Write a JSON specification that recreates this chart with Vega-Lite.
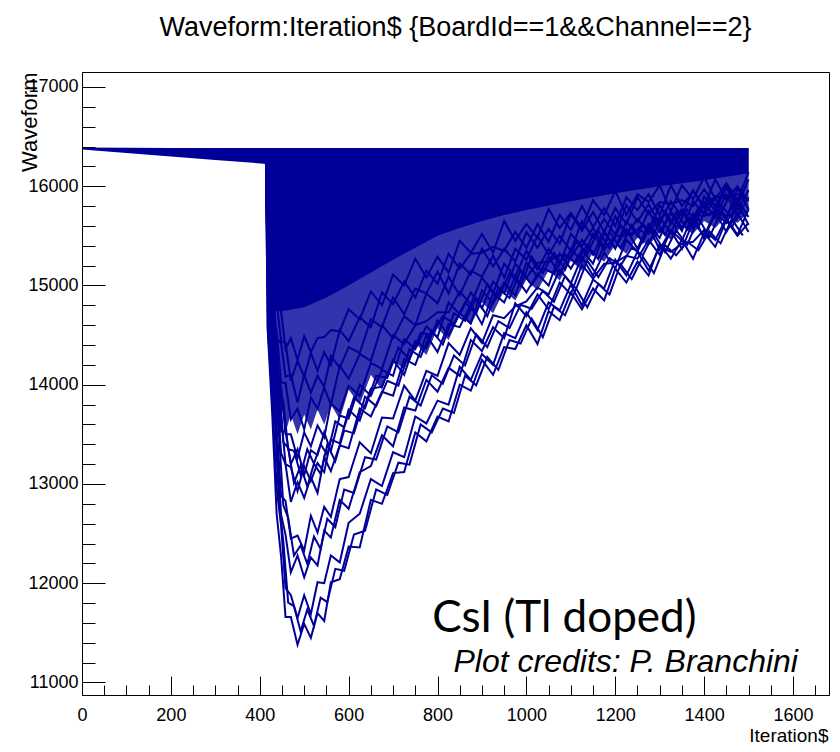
{
"$schema": "https://vega.github.io/schema/vega-lite/v6.json",
"width": 747, "height": 623,
"autosize": {"type": "none"},
"padding": {"left": 82, "top": 72, "right": 11, "bottom": 57},
"background": "white",
"title": {"text": "Waveform:Iteration$ {BoardId==1&&Channel==2}", "font": "Liberation Sans", "fontSize": 27, "fontWeight": "normal", "color": "black", "anchor": "middle", "frame": "group", "baseline": "alphabetic", "offset": 9},
"config": {"view": {"stroke": "black", "strokeWidth": 1}, "axis": {"grid": false}},
"datasets": {
"core": [
{"x":0,"top":16390,"bottom":16370},{"x":100,"top":16388,"bottom":16335},{"x":200,"top":16385,"bottom":16300},{"x":300,"top":16385,"bottom":16265},{"x":416,"top":16385,"bottom":16225},{"x":417,"top":16385,"bottom":14750},{"x":450,"top":16385,"bottom":14740},{"x":500,"top":16385,"bottom":14780},{"x":550,"top":16385,"bottom":14880},{"x":600,"top":16385,"bottom":15000},{"x":650,"top":16385,"bottom":15130},{"x":700,"top":16385,"bottom":15260},{"x":750,"top":16385,"bottom":15380},{"x":800,"top":16385,"bottom":15500},{"x":850,"top":16385,"bottom":15580},{"x":900,"top":16385,"bottom":15650},{"x":950,"top":16385,"bottom":15710},{"x":1000,"top":16385,"bottom":15760},{"x":1100,"top":16385,"bottom":15850},{"x":1200,"top":16385,"bottom":15930},{"x":1300,"top":16385,"bottom":16000},{"x":1400,"top":16385,"bottom":16060},{"x":1500,"top":16385,"bottom":16130}
],
"fringe": [
{"x":417,"top":16385,"bottom":14750},{"x":430,"top":16385,"bottom":14000},{"x":440,"top":16385,"bottom":13650},{"x":450,"top":16385,"bottom":13750},{"x":460,"top":16385,"bottom":13550},{"x":470,"top":16385,"bottom":13700},{"x":485,"top":16385,"bottom":13500},{"x":500,"top":16385,"bottom":13700},{"x":515,"top":16385,"bottom":13550},{"x":530,"top":16385,"bottom":13750},{"x":545,"top":16385,"bottom":13600},{"x":560,"top":16385,"bottom":13800},{"x":580,"top":16385,"bottom":13650},{"x":600,"top":16385,"bottom":13950},{"x":625,"top":16385,"bottom":13800},{"x":650,"top":16385,"bottom":14100},{"x":675,"top":16385,"bottom":13950},{"x":700,"top":16385,"bottom":14250},{"x":725,"top":16385,"bottom":14150},{"x":750,"top":16385,"bottom":14420},{"x":775,"top":16385,"bottom":14300},{"x":800,"top":16385,"bottom":14570},{"x":825,"top":16385,"bottom":14450},{"x":850,"top":16385,"bottom":14700},{"x":875,"top":16385,"bottom":14600},{"x":900,"top":16385,"bottom":14830},{"x":925,"top":16385,"bottom":14720},{"x":950,"top":16385,"bottom":14950},{"x":975,"top":16385,"bottom":14850},{"x":1000,"top":16385,"bottom":15060},{"x":1025,"top":16385,"bottom":14950},{"x":1050,"top":16385,"bottom":15150},{"x":1075,"top":16385,"bottom":15050},{"x":1100,"top":16385,"bottom":15250},{"x":1125,"top":16385,"bottom":15150},{"x":1150,"top":16385,"bottom":15330},{"x":1175,"top":16385,"bottom":15240},{"x":1200,"top":16385,"bottom":15410},{"x":1225,"top":16385,"bottom":15320},{"x":1250,"top":16385,"bottom":15480},{"x":1275,"top":16385,"bottom":15400},{"x":1300,"top":16385,"bottom":15540},{"x":1325,"top":16385,"bottom":15460},{"x":1350,"top":16385,"bottom":15600},{"x":1375,"top":16385,"bottom":15520},{"x":1400,"top":16385,"bottom":15650},{"x":1425,"top":16385,"bottom":15580},{"x":1450,"top":16385,"bottom":15700},{"x":1475,"top":16385,"bottom":15630},{"x":1500,"top":16385,"bottom":15740}
],
"traces": [
{"s":1,"x":414,"y":16230},{"s":1,"x":418,"y":14540},{"s":1,"x":428,"y":13710},{"s":1,"x":438,"y":12700},{"s":1,"x":448,"y":12270},{"s":1,"x":458,"y":11660},{"s":1,"x":470,"y":11660},{"s":1,"x":485,"y":11380},{"s":1,"x":500,"y":11590},{"s":1,"x":515,"y":11450},{"s":1,"x":530,"y":11700},{"s":1,"x":545,"y":11620},{"s":1,"x":560,"y":12010},{"s":1,"x":580,"y":12040},{"s":1,"x":600,"y":12370},{"s":1,"x":625,"y":12360},{"s":1,"x":650,"y":12840},{"s":1,"x":675,"y":12800},{"s":1,"x":700,"y":13110},{"s":1,"x":725,"y":13120},{"s":1,"x":750,"y":13520},{"s":1,"x":775,"y":13430},{"s":1,"x":800,"y":13680},{"s":1,"x":825,"y":13630},{"s":1,"x":850,"y":14000},{"s":1,"x":875,"y":13940},{"s":1,"x":900,"y":14250},{"s":1,"x":925,"y":14100},{"s":1,"x":950,"y":14380},{"s":1,"x":975,"y":14360},{"s":1,"x":1000,"y":14600},{"s":1,"x":1025,"y":14410},{"s":1,"x":1050,"y":14740},{"s":1,"x":1075,"y":14650},{"s":1,"x":1100,"y":14930},{"s":1,"x":1125,"y":14760},{"s":1,"x":1150,"y":14970},{"s":1,"x":1175,"y":14850},{"s":1,"x":1200,"y":15170},{"s":1,"x":1225,"y":15030},{"s":1,"x":1250,"y":15240},{"s":1,"x":1275,"y":15100},{"s":1,"x":1300,"y":15420},{"s":1,"x":1325,"y":15270},{"s":1,"x":1350,"y":15460},{"s":1,"x":1375,"y":15270},{"s":1,"x":1400,"y":15530},{"s":1,"x":1425,"y":15390},{"s":1,"x":1450,"y":15660},{"s":1,"x":1475,"y":15500},{"s":1,"x":1500,"y":15630},
{"s":2,"x":414,"y":16230},{"s":2,"x":418,"y":14570},{"s":2,"x":428,"y":13900},{"s":2,"x":438,"y":12960},{"s":2,"x":448,"y":12580},{"s":2,"x":458,"y":11950},{"s":2,"x":470,"y":11880},{"s":2,"x":485,"y":11650},{"s":2,"x":500,"y":11880},{"s":2,"x":515,"y":11690},{"s":2,"x":530,"y":12010},{"s":2,"x":545,"y":12000},{"s":2,"x":560,"y":12280},{"s":2,"x":580,"y":12210},{"s":2,"x":600,"y":12610},{"s":2,"x":625,"y":12700},{"s":2,"x":650,"y":13050},{"s":2,"x":675,"y":12980},{"s":2,"x":700,"y":13320},{"s":2,"x":725,"y":13270},{"s":2,"x":750,"y":13680},{"s":2,"x":775,"y":13610},{"s":2,"x":800,"y":13840},{"s":2,"x":825,"y":13800},{"s":2,"x":850,"y":14180},{"s":2,"x":875,"y":14050},{"s":2,"x":900,"y":14310},{"s":2,"x":925,"y":14200},{"s":2,"x":950,"y":14520},{"s":2,"x":975,"y":14470},{"s":2,"x":1000,"y":14730},{"s":2,"x":1025,"y":14550},{"s":2,"x":1050,"y":14830},{"s":2,"x":1075,"y":14750},{"s":2,"x":1100,"y":15010},{"s":2,"x":1125,"y":14800},{"s":2,"x":1150,"y":15060},{"s":2,"x":1175,"y":14970},{"s":2,"x":1200,"y":15260},{"s":2,"x":1225,"y":15100},{"s":2,"x":1250,"y":15340},{"s":2,"x":1275,"y":15150},{"s":2,"x":1300,"y":15390},{"s":2,"x":1325,"y":15340},{"s":2,"x":1350,"y":15420},{"s":2,"x":1375,"y":15440},{"s":2,"x":1400,"y":15560},{"s":2,"x":1425,"y":15460},{"s":2,"x":1450,"y":15680},{"s":2,"x":1475,"y":15510},{"s":2,"x":1500,"y":15770},
{"s":3,"x":414,"y":16230},{"s":3,"x":418,"y":14950},{"s":3,"x":428,"y":13890},{"s":3,"x":438,"y":13460},{"s":3,"x":448,"y":12690},{"s":3,"x":458,"y":12490},{"s":3,"x":470,"y":12110},{"s":3,"x":485,"y":12280},{"s":3,"x":500,"y":12060},{"s":3,"x":515,"y":12260},{"s":3,"x":530,"y":12180},{"s":3,"x":545,"y":12530},{"s":3,"x":560,"y":12460},{"s":3,"x":580,"y":12840},{"s":3,"x":600,"y":12750},{"s":3,"x":625,"y":13120},{"s":3,"x":650,"y":13180},{"s":3,"x":675,"y":13490},{"s":3,"x":700,"y":13380},{"s":3,"x":725,"y":13770},{"s":3,"x":750,"y":13740},{"s":3,"x":775,"y":14050},{"s":3,"x":800,"y":13930},{"s":3,"x":825,"y":14170},{"s":3,"x":850,"y":14090},{"s":3,"x":875,"y":14450},{"s":3,"x":900,"y":14340},{"s":3,"x":925,"y":14580},{"s":3,"x":950,"y":14470},{"s":3,"x":975,"y":14820},{"s":3,"x":1000,"y":14690},{"s":3,"x":1025,"y":14910},{"s":3,"x":1050,"y":14760},{"s":3,"x":1075,"y":15030},{"s":3,"x":1100,"y":14910},{"s":3,"x":1125,"y":15210},{"s":3,"x":1150,"y":15070},{"s":3,"x":1175,"y":15220},{"s":3,"x":1200,"y":15230},{"s":3,"x":1225,"y":15300},{"s":3,"x":1250,"y":15270},{"s":3,"x":1275,"y":15460},{"s":3,"x":1300,"y":15310},{"s":3,"x":1325,"y":15550},{"s":3,"x":1350,"y":15370},{"s":3,"x":1375,"y":15640},{"s":3,"x":1400,"y":15500},{"s":3,"x":1425,"y":15740},{"s":3,"x":1450,"y":15540},{"s":3,"x":1475,"y":15730},{"s":3,"x":1500,"y":15540},
{"s":4,"x":414,"y":16230},{"s":4,"x":418,"y":15090},{"s":4,"x":428,"y":14070},{"s":4,"x":438,"y":13590},{"s":4,"x":448,"y":12880},{"s":4,"x":458,"y":12830},{"s":4,"x":470,"y":12450},{"s":4,"x":485,"y":12480},{"s":4,"x":500,"y":12330},{"s":4,"x":515,"y":12680},{"s":4,"x":530,"y":12510},{"s":4,"x":545,"y":12770},{"s":4,"x":560,"y":12670},{"s":4,"x":580,"y":13050},{"s":4,"x":600,"y":13070},{"s":4,"x":625,"y":13420},{"s":4,"x":650,"y":13310},{"s":4,"x":675,"y":13670},{"s":4,"x":700,"y":13660},{"s":4,"x":725,"y":13990},{"s":4,"x":750,"y":13840},{"s":4,"x":775,"y":14140},{"s":4,"x":800,"y":14090},{"s":4,"x":825,"y":14420},{"s":4,"x":850,"y":14300},{"s":4,"x":875,"y":14570},{"s":4,"x":900,"y":14420},{"s":4,"x":925,"y":14700},{"s":4,"x":950,"y":14670},{"s":4,"x":975,"y":14790},{"s":4,"x":1000,"y":14840},{"s":4,"x":1025,"y":14980},{"s":4,"x":1050,"y":14910},{"s":4,"x":1075,"y":15160},{"s":4,"x":1100,"y":15020},{"s":4,"x":1125,"y":15290},{"s":4,"x":1150,"y":15100},{"s":4,"x":1175,"y":15330},{"s":4,"x":1200,"y":15170},{"s":4,"x":1225,"y":15460},{"s":4,"x":1250,"y":15340},{"s":4,"x":1275,"y":15590},{"s":4,"x":1300,"y":15360},{"s":4,"x":1325,"y":15560},{"s":4,"x":1350,"y":15450},{"s":4,"x":1375,"y":15720},{"s":4,"x":1400,"y":15470},{"s":4,"x":1425,"y":15730},{"s":4,"x":1450,"y":15630},{"s":4,"x":1475,"y":15830},{"s":4,"x":1500,"y":15610},
{"s":5,"x":414,"y":16230},{"s":5,"x":418,"y":15220},{"s":5,"x":428,"y":14360},{"s":5,"x":438,"y":13990},{"s":5,"x":448,"y":13310},{"s":5,"x":458,"y":13200},{"s":5,"x":470,"y":12820},{"s":5,"x":485,"y":13020},{"s":5,"x":500,"y":12860},{"s":5,"x":515,"y":13070},{"s":5,"x":530,"y":12910},{"s":5,"x":545,"y":13270},{"s":5,"x":560,"y":13130},{"s":5,"x":580,"y":13390},{"s":5,"x":600,"y":13360},{"s":5,"x":625,"y":13760},{"s":5,"x":650,"y":13680},{"s":5,"x":675,"y":13930},{"s":5,"x":700,"y":13890},{"s":5,"x":725,"y":14260},{"s":5,"x":750,"y":14200},{"s":5,"x":775,"y":14500},{"s":5,"x":800,"y":14330},{"s":5,"x":825,"y":14610},{"s":5,"x":850,"y":14580},{"s":5,"x":875,"y":14810},{"s":5,"x":900,"y":14610},{"s":5,"x":925,"y":14920},{"s":5,"x":950,"y":14830},{"s":5,"x":975,"y":15090},{"s":5,"x":1000,"y":14930},{"s":5,"x":1025,"y":15120},{"s":5,"x":1050,"y":15000},{"s":5,"x":1075,"y":15320},{"s":5,"x":1100,"y":15170},{"s":5,"x":1125,"y":15360},{"s":5,"x":1150,"y":15220},{"s":5,"x":1175,"y":15530},{"s":5,"x":1200,"y":15380},{"s":5,"x":1225,"y":15570},{"s":5,"x":1250,"y":15370},{"s":5,"x":1275,"y":15620},{"s":5,"x":1300,"y":15480},{"s":5,"x":1325,"y":15750},{"s":5,"x":1350,"y":15580},{"s":5,"x":1375,"y":15710},{"s":5,"x":1400,"y":15700},{"s":5,"x":1425,"y":15750},{"s":5,"x":1450,"y":15700},{"s":5,"x":1475,"y":15860},{"s":5,"x":1500,"y":15690},
{"s":6,"x":414,"y":16230},{"s":6,"x":418,"y":15120},{"s":6,"x":428,"y":14610},{"s":6,"x":438,"y":13830},{"s":6,"x":448,"y":13690},{"s":6,"x":458,"y":13200},{"s":6,"x":470,"y":13170},{"s":6,"x":485,"y":12930},{"s":6,"x":500,"y":13180},{"s":6,"x":515,"y":13030},{"s":6,"x":530,"y":13210},{"s":6,"x":545,"y":13120},{"s":6,"x":560,"y":13450},{"s":6,"x":580,"y":13410},{"s":6,"x":600,"y":13750},{"s":6,"x":625,"y":13640},{"s":6,"x":650,"y":13960},{"s":6,"x":675,"y":13980},{"s":6,"x":700,"y":14250},{"s":6,"x":725,"y":14100},{"s":6,"x":750,"y":14440},{"s":6,"x":775,"y":14370},{"s":6,"x":800,"y":14650},{"s":6,"x":825,"y":14500},{"s":6,"x":850,"y":14720},{"s":6,"x":875,"y":14620},{"s":6,"x":900,"y":14950},{"s":6,"x":925,"y":14820},{"s":6,"x":950,"y":15030},{"s":6,"x":975,"y":14900},{"s":6,"x":1000,"y":15230},{"s":6,"x":1025,"y":15090},{"s":6,"x":1050,"y":15290},{"s":6,"x":1075,"y":15110},{"s":6,"x":1100,"y":15370},{"s":6,"x":1125,"y":15240},{"s":6,"x":1150,"y":15520},{"s":6,"x":1175,"y":15360},{"s":6,"x":1200,"y":15500},{"s":6,"x":1225,"y":15500},{"s":6,"x":1250,"y":15560},{"s":6,"x":1275,"y":15520},{"s":6,"x":1300,"y":15690},{"s":6,"x":1325,"y":15530},{"s":6,"x":1350,"y":15760},{"s":6,"x":1375,"y":15570},{"s":6,"x":1400,"y":15840},{"s":6,"x":1425,"y":15680},{"s":6,"x":1450,"y":15920},{"s":6,"x":1475,"y":15700},{"s":6,"x":1500,"y":15890},
{"s":7,"x":414,"y":16230},{"s":7,"x":418,"y":15350},{"s":7,"x":428,"y":14510},{"s":7,"x":438,"y":14100},{"s":7,"x":448,"y":13530},{"s":7,"x":458,"y":13530},{"s":7,"x":470,"y":13200},{"s":7,"x":485,"y":13350},{"s":7,"x":500,"y":13090},{"s":7,"x":515,"y":13340},{"s":7,"x":530,"y":13290},{"s":7,"x":545,"y":13520},{"s":7,"x":560,"y":13330},{"s":7,"x":580,"y":13690},{"s":7,"x":600,"y":13660},{"s":7,"x":625,"y":14000},{"s":7,"x":650,"y":13890},{"s":7,"x":675,"y":14150},{"s":7,"x":700,"y":14090},{"s":7,"x":725,"y":14460},{"s":7,"x":750,"y":14360},{"s":7,"x":775,"y":14590},{"s":7,"x":800,"y":14480},{"s":7,"x":825,"y":14830},{"s":7,"x":850,"y":14710},{"s":7,"x":875,"y":14930},{"s":7,"x":900,"y":14770},{"s":7,"x":925,"y":15040},{"s":7,"x":950,"y":14920},{"s":7,"x":975,"y":15220},{"s":7,"x":1000,"y":15080},{"s":7,"x":1025,"y":15230},{"s":7,"x":1050,"y":15240},{"s":7,"x":1075,"y":15310},{"s":7,"x":1100,"y":15280},{"s":7,"x":1125,"y":15460},{"s":7,"x":1150,"y":15310},{"s":7,"x":1175,"y":15550},{"s":7,"x":1200,"y":15370},{"s":7,"x":1225,"y":15650},{"s":7,"x":1250,"y":15500},{"s":7,"x":1275,"y":15750},{"s":7,"x":1300,"y":15540},{"s":7,"x":1325,"y":15730},{"s":7,"x":1350,"y":15550},{"s":7,"x":1375,"y":15850},{"s":7,"x":1400,"y":15710},{"s":7,"x":1425,"y":15880},{"s":7,"x":1450,"y":15670},{"s":7,"x":1475,"y":15980},{"s":7,"x":1500,"y":15770},
{"s":8,"x":414,"y":16230},{"s":8,"x":418,"y":15140},{"s":8,"x":428,"y":14800},{"s":8,"x":438,"y":14140},{"s":8,"x":448,"y":13970},{"s":8,"x":458,"y":13500},{"s":8,"x":470,"y":13500},{"s":8,"x":485,"y":13260},{"s":8,"x":500,"y":13520},{"s":8,"x":515,"y":13380},{"s":8,"x":530,"y":13590},{"s":8,"x":545,"y":13470},{"s":8,"x":560,"y":13810},{"s":8,"x":580,"y":13730},{"s":8,"x":600,"y":13990},{"s":8,"x":625,"y":13890},{"s":8,"x":650,"y":14220},{"s":8,"x":675,"y":14160},{"s":8,"x":700,"y":14500},{"s":8,"x":725,"y":14410},{"s":8,"x":750,"y":14600},{"s":8,"x":775,"y":14640},{"s":8,"x":800,"y":14730},{"s":8,"x":825,"y":14730},{"s":8,"x":850,"y":14940},{"s":8,"x":875,"y":14810},{"s":8,"x":900,"y":15080},{"s":8,"x":925,"y":14920},{"s":8,"x":950,"y":15220},{"s":8,"x":975,"y":15090},{"s":8,"x":1000,"y":15350},{"s":8,"x":1025,"y":15160},{"s":8,"x":1050,"y":15370},{"s":8,"x":1075,"y":15210},{"s":8,"x":1100,"y":15520},{"s":8,"x":1125,"y":15400},{"s":8,"x":1150,"y":15580},{"s":8,"x":1175,"y":15390},{"s":8,"x":1200,"y":15700},{"s":8,"x":1225,"y":15510},{"s":8,"x":1250,"y":15670},{"s":8,"x":1275,"y":15530},{"s":8,"x":1300,"y":15810},{"s":8,"x":1325,"y":15620},{"s":8,"x":1350,"y":15770},{"s":8,"x":1375,"y":15620},{"s":8,"x":1400,"y":15900},{"s":8,"x":1425,"y":15750},{"s":8,"x":1450,"y":15990},{"s":8,"x":1475,"y":15750},{"s":8,"x":1500,"y":15960},
{"s":9,"x":414,"y":16230},{"s":9,"x":418,"y":15480},{"s":9,"x":428,"y":14740},{"s":9,"x":438,"y":14540},{"s":9,"x":448,"y":14020},{"s":9,"x":458,"y":14020},{"s":9,"x":470,"y":13650},{"s":9,"x":485,"y":13760},{"s":9,"x":500,"y":13550},{"s":9,"x":515,"y":13870},{"s":9,"x":530,"y":13760},{"s":9,"x":545,"y":13970},{"s":9,"x":560,"y":13800},{"s":9,"x":580,"y":14190},{"s":9,"x":600,"y":14060},{"s":9,"x":625,"y":14310},{"s":9,"x":650,"y":14240},{"s":9,"x":675,"y":14600},{"s":9,"x":700,"y":14470},{"s":9,"x":725,"y":14690},{"s":9,"x":750,"y":14600},{"s":9,"x":775,"y":14920},{"s":9,"x":800,"y":14820},{"s":9,"x":825,"y":15090},{"s":9,"x":850,"y":14900},{"s":9,"x":875,"y":15150},{"s":9,"x":900,"y":15090},{"s":9,"x":925,"y":15300},{"s":9,"x":950,"y":15080},{"s":9,"x":975,"y":15370},{"s":9,"x":1000,"y":15260},{"s":9,"x":1025,"y":15500},{"s":9,"x":1050,"y":15310},{"s":9,"x":1075,"y":15500},{"s":9,"x":1100,"y":15350},{"s":9,"x":1125,"y":15650},{"s":9,"x":1150,"y":15480},{"s":9,"x":1175,"y":15670},{"s":9,"x":1200,"y":15510},{"s":9,"x":1225,"y":15810},{"s":9,"x":1250,"y":15640},{"s":9,"x":1275,"y":15820},{"s":9,"x":1300,"y":15620},{"s":9,"x":1325,"y":15850},{"s":9,"x":1350,"y":15700},{"s":9,"x":1375,"y":15960},{"s":9,"x":1400,"y":15780},{"s":9,"x":1425,"y":15900},{"s":9,"x":1450,"y":15880},{"s":9,"x":1475,"y":15920},{"s":9,"x":1500,"y":15860},
{"s":10,"x":414,"y":16230},{"s":10,"x":418,"y":15380},{"s":10,"x":428,"y":15070},{"s":10,"x":438,"y":14460},{"s":10,"x":448,"y":14420},{"s":10,"x":458,"y":14080},{"s":10,"x":470,"y":14100},{"s":10,"x":485,"y":13820},{"s":10,"x":500,"y":14100},{"s":10,"x":515,"y":13920},{"s":10,"x":530,"y":14090},{"s":10,"x":545,"y":13980},{"s":10,"x":560,"y":14290},{"s":10,"x":580,"y":14170},{"s":10,"x":600,"y":14380},{"s":10,"x":625,"y":14320},{"s":10,"x":650,"y":14660},{"s":10,"x":675,"y":14580},{"s":10,"x":700,"y":14880},{"s":10,"x":725,"y":14710},{"s":10,"x":750,"y":14970},{"s":10,"x":775,"y":14920},{"s":10,"x":800,"y":15140},{"s":10,"x":825,"y":14920},{"s":10,"x":850,"y":15220},{"s":10,"x":875,"y":15110},{"s":10,"x":900,"y":15370},{"s":10,"x":925,"y":15190},{"s":10,"x":950,"y":15370},{"s":10,"x":975,"y":15240},{"s":10,"x":1000,"y":15540},{"s":10,"x":1025,"y":15380},{"s":10,"x":1050,"y":15570},{"s":10,"x":1075,"y":15420},{"s":10,"x":1100,"y":15720},{"s":10,"x":1125,"y":15550},{"s":10,"x":1150,"y":15740},{"s":10,"x":1175,"y":15540},{"s":10,"x":1200,"y":15780},{"s":10,"x":1225,"y":15620},{"s":10,"x":1250,"y":15890},{"s":10,"x":1275,"y":15720},{"s":10,"x":1300,"y":15840},{"s":10,"x":1325,"y":15820},{"s":10,"x":1350,"y":15860},{"s":10,"x":1375,"y":15800},{"s":10,"x":1400,"y":15970},{"s":10,"x":1425,"y":15800},{"s":10,"x":1450,"y":16010},{"s":10,"x":1475,"y":15810},{"s":10,"x":1500,"y":16070},
{"s":11,"x":414,"y":16230},{"s":11,"x":418,"y":15700},{"s":11,"x":428,"y":15010},{"s":11,"x":438,"y":14830},{"s":11,"x":448,"y":14440},{"s":11,"x":458,"y":14420},{"s":11,"x":470,"y":14040},{"s":11,"x":485,"y":14240},{"s":11,"x":500,"y":14080},{"s":11,"x":515,"y":14320},{"s":11,"x":530,"y":14140},{"s":11,"x":545,"y":14330},{"s":11,"x":560,"y":14200},{"s":11,"x":580,"y":14550},{"s":11,"x":600,"y":14440},{"s":11,"x":625,"y":14680},{"s":11,"x":650,"y":14580},{"s":11,"x":675,"y":14930},{"s":11,"x":700,"y":14810},{"s":11,"x":725,"y":15040},{"s":11,"x":750,"y":14880},{"s":11,"x":775,"y":15150},{"s":11,"x":800,"y":15020},{"s":11,"x":825,"y":15320},{"s":11,"x":850,"y":15170},{"s":11,"x":875,"y":15320},{"s":11,"x":900,"y":15330},{"s":11,"x":925,"y":15390},{"s":11,"x":950,"y":15350},{"s":11,"x":975,"y":15540},{"s":11,"x":1000,"y":15380},{"s":11,"x":1025,"y":15620},{"s":11,"x":1050,"y":15440},{"s":11,"x":1075,"y":15710},{"s":11,"x":1100,"y":15560},{"s":11,"x":1125,"y":15800},{"s":11,"x":1150,"y":15590},{"s":11,"x":1175,"y":15780},{"s":11,"x":1200,"y":15600},{"s":11,"x":1225,"y":15890},{"s":11,"x":1250,"y":15760},{"s":11,"x":1275,"y":15920},{"s":11,"x":1300,"y":15710},{"s":11,"x":1325,"y":16010},{"s":11,"x":1350,"y":15800},{"s":11,"x":1375,"y":15950},{"s":11,"x":1400,"y":15800},{"s":11,"x":1425,"y":16070},{"s":11,"x":1450,"y":15870},{"s":11,"x":1475,"y":16000},{"s":11,"x":1500,"y":15850},
{"s":12,"x":414,"y":16230},{"s":12,"x":418,"y":15500},{"s":12,"x":428,"y":15380},{"s":12,"x":438,"y":14850},{"s":12,"x":448,"y":14740},{"s":12,"x":458,"y":14360},{"s":12,"x":470,"y":14470},{"s":12,"x":485,"y":14250},{"s":12,"x":500,"y":14490},{"s":12,"x":515,"y":14330},{"s":12,"x":530,"y":14470},{"s":12,"x":545,"y":14480},{"s":12,"x":560,"y":14550},{"s":12,"x":580,"y":14540},{"s":12,"x":600,"y":14760},{"s":12,"x":625,"y":14660},{"s":12,"x":650,"y":14940},{"s":12,"x":675,"y":14800},{"s":12,"x":700,"y":15110},{"s":12,"x":725,"y":15000},{"s":12,"x":750,"y":15270},{"s":12,"x":775,"y":15080},{"s":12,"x":800,"y":15290},{"s":12,"x":825,"y":15130},{"s":12,"x":850,"y":15450},{"s":12,"x":875,"y":15330},{"s":12,"x":900,"y":15520},{"s":12,"x":925,"y":15330},{"s":12,"x":950,"y":15650},{"s":12,"x":975,"y":15450},{"s":12,"x":1000,"y":15620},{"s":12,"x":1025,"y":15480},{"s":12,"x":1050,"y":15770},{"s":12,"x":1075,"y":15580},{"s":12,"x":1100,"y":15730},{"s":12,"x":1125,"y":15580},{"s":12,"x":1150,"y":15860},{"s":12,"x":1175,"y":15710},{"s":12,"x":1200,"y":15950},{"s":12,"x":1225,"y":15710},{"s":12,"x":1250,"y":15920},{"s":12,"x":1275,"y":15840},{"s":12,"x":1300,"y":16010},{"s":12,"x":1325,"y":15750},{"s":12,"x":1350,"y":16010},{"s":12,"x":1375,"y":15870},{"s":12,"x":1400,"y":16090},{"s":12,"x":1425,"y":15870},{"s":12,"x":1450,"y":16030},{"s":12,"x":1475,"y":15860},{"s":12,"x":1500,"y":16140},
{"s":13,"x":414,"y":16230},{"s":13,"x":423,"y":14555},{"s":13,"x":433,"y":13805},{"s":13,"x":443,"y":12830},{"s":13,"x":453,"y":12425},{"s":13,"x":464,"y":11805},{"s":13,"x":477,"y":11770},{"s":13,"x":492,"y":11515},{"s":13,"x":507,"y":11735},{"s":13,"x":522,"y":11570},{"s":13,"x":537,"y":11855},{"s":13,"x":552,"y":11810},{"s":13,"x":570,"y":12145},{"s":13,"x":590,"y":12125},{"s":13,"x":612,"y":12490},{"s":13,"x":637,"y":12530},{"s":13,"x":662,"y":12945},{"s":13,"x":687,"y":12890},{"s":13,"x":712,"y":13215},{"s":13,"x":737,"y":13195},{"s":13,"x":762,"y":13600},{"s":13,"x":787,"y":13520},{"s":13,"x":812,"y":13760},{"s":13,"x":837,"y":13715},{"s":13,"x":862,"y":14090},{"s":13,"x":887,"y":13995},{"s":13,"x":912,"y":14280},{"s":13,"x":937,"y":14150},{"s":13,"x":962,"y":14450},{"s":13,"x":987,"y":14415},{"s":13,"x":1012,"y":14665},{"s":13,"x":1037,"y":14480},{"s":13,"x":1062,"y":14785},{"s":13,"x":1087,"y":14700},{"s":13,"x":1112,"y":14970},{"s":13,"x":1137,"y":14780},{"s":13,"x":1162,"y":15015},{"s":13,"x":1187,"y":14910},{"s":13,"x":1212,"y":15215},{"s":13,"x":1237,"y":15065},{"s":13,"x":1262,"y":15290},{"s":13,"x":1287,"y":15125},{"s":13,"x":1312,"y":15405},{"s":13,"x":1337,"y":15305},{"s":13,"x":1362,"y":15440},{"s":13,"x":1387,"y":15355},{"s":13,"x":1412,"y":15545},{"s":13,"x":1437,"y":15425},{"s":13,"x":1462,"y":15670},{"s":13,"x":1487,"y":15505},
{"s":14,"x":414,"y":16230},{"s":14,"x":423,"y":15020},{"s":14,"x":433,"y":13980},{"s":14,"x":443,"y":13525},{"s":14,"x":453,"y":12785},{"s":14,"x":464,"y":12660},{"s":14,"x":477,"y":12280},{"s":14,"x":492,"y":12380},{"s":14,"x":507,"y":12195},{"s":14,"x":522,"y":12470},{"s":14,"x":537,"y":12345},{"s":14,"x":552,"y":12650},{"s":14,"x":570,"y":12565},{"s":14,"x":590,"y":12945},{"s":14,"x":612,"y":12910},{"s":14,"x":637,"y":13270},{"s":14,"x":662,"y":13245},{"s":14,"x":687,"y":13580},{"s":14,"x":712,"y":13520},{"s":14,"x":737,"y":13880},{"s":14,"x":762,"y":13790},{"s":14,"x":787,"y":14095},{"s":14,"x":812,"y":14010},{"s":14,"x":837,"y":14295},{"s":14,"x":862,"y":14195},{"s":14,"x":887,"y":14510},{"s":14,"x":912,"y":14380},{"s":14,"x":937,"y":14640},{"s":14,"x":962,"y":14570},{"s":14,"x":987,"y":14805},{"s":14,"x":1012,"y":14765},{"s":14,"x":1037,"y":14945},{"s":14,"x":1062,"y":14835},{"s":14,"x":1087,"y":15095},{"s":14,"x":1112,"y":14965},{"s":14,"x":1137,"y":15250},{"s":14,"x":1162,"y":15085},{"s":14,"x":1187,"y":15275},{"s":14,"x":1212,"y":15200},{"s":14,"x":1237,"y":15380},{"s":14,"x":1262,"y":15305},{"s":14,"x":1287,"y":15525},{"s":14,"x":1312,"y":15335},{"s":14,"x":1337,"y":15555},{"s":14,"x":1362,"y":15410},{"s":14,"x":1387,"y":15680},{"s":14,"x":1412,"y":15485},{"s":14,"x":1437,"y":15735},{"s":14,"x":1462,"y":15585},{"s":14,"x":1487,"y":15780},
{"s":15,"x":414,"y":16230},{"s":15,"x":423,"y":15285},{"s":15,"x":433,"y":14435},{"s":15,"x":443,"y":14045},{"s":15,"x":453,"y":13420},{"s":15,"x":464,"y":13365},{"s":15,"x":477,"y":13010},{"s":15,"x":492,"y":13185},{"s":15,"x":507,"y":12975},{"s":15,"x":522,"y":13205},{"s":15,"x":537,"y":13100},{"s":15,"x":552,"y":13395},{"s":15,"x":570,"y":13230},{"s":15,"x":590,"y":13540},{"s":15,"x":612,"y":13510},{"s":15,"x":637,"y":13880},{"s":15,"x":662,"y":13785},{"s":15,"x":687,"y":14040},{"s":15,"x":712,"y":13990},{"s":15,"x":737,"y":14360},{"s":15,"x":762,"y":14280},{"s":15,"x":787,"y":14545},{"s":15,"x":812,"y":14405},{"s":15,"x":837,"y":14720},{"s":15,"x":862,"y":14645},{"s":15,"x":887,"y":14870},{"s":15,"x":912,"y":14690},{"s":15,"x":937,"y":14980},{"s":15,"x":962,"y":14875},{"s":15,"x":987,"y":15155},{"s":15,"x":1012,"y":15005},{"s":15,"x":1037,"y":15175},{"s":15,"x":1062,"y":15120},{"s":15,"x":1087,"y":15315},{"s":15,"x":1112,"y":15225},{"s":15,"x":1137,"y":15410},{"s":15,"x":1162,"y":15265},{"s":15,"x":1187,"y":15540},{"s":15,"x":1212,"y":15375},{"s":15,"x":1237,"y":15610},{"s":15,"x":1262,"y":15435},{"s":15,"x":1287,"y":15685},{"s":15,"x":1312,"y":15510},{"s":15,"x":1337,"y":15740},{"s":15,"x":1362,"y":15565},{"s":15,"x":1387,"y":15780},{"s":15,"x":1412,"y":15705},{"s":15,"x":1437,"y":15815},{"s":15,"x":1462,"y":15685},{"s":15,"x":1487,"y":15920},
{"s":16,"x":414,"y":16230},{"s":16,"x":423,"y":15130},{"s":16,"x":433,"y":14705},{"s":16,"x":443,"y":13985},{"s":16,"x":453,"y":13830},{"s":16,"x":464,"y":13350},{"s":16,"x":477,"y":13335},{"s":16,"x":492,"y":13095},{"s":16,"x":507,"y":13350},{"s":16,"x":522,"y":13205},{"s":16,"x":537,"y":13400},{"s":16,"x":552,"y":13295},{"s":16,"x":570,"y":13630},{"s":16,"x":590,"y":13570},{"s":16,"x":612,"y":13870},{"s":16,"x":637,"y":13765},{"s":16,"x":662,"y":14090},{"s":16,"x":687,"y":14070},{"s":16,"x":712,"y":14375},{"s":16,"x":737,"y":14255},{"s":16,"x":762,"y":14520},{"s":16,"x":787,"y":14505},{"s":16,"x":812,"y":14690},{"s":16,"x":837,"y":14615},{"s":16,"x":862,"y":14830},{"s":16,"x":887,"y":14715},{"s":16,"x":912,"y":15015},{"s":16,"x":937,"y":14870},{"s":16,"x":962,"y":15125},{"s":16,"x":987,"y":14995},{"s":16,"x":1012,"y":15290},{"s":16,"x":1037,"y":15125},{"s":16,"x":1062,"y":15330},{"s":16,"x":1087,"y":15160},{"s":16,"x":1112,"y":15445},{"s":16,"x":1137,"y":15320},{"s":16,"x":1162,"y":15550},{"s":16,"x":1187,"y":15375},{"s":16,"x":1212,"y":15600},{"s":16,"x":1237,"y":15505},{"s":16,"x":1262,"y":15615},{"s":16,"x":1287,"y":15525},{"s":16,"x":1312,"y":15750},{"s":16,"x":1337,"y":15575},{"s":16,"x":1362,"y":15765},{"s":16,"x":1387,"y":15595},{"s":16,"x":1412,"y":15870},{"s":16,"x":1437,"y":15715},{"s":16,"x":1462,"y":15955},{"s":16,"x":1487,"y":15725}
]
},
"layer": [
{
"data": {"name": "core"},
"mark": {"type": "area", "color": "#000099", "interpolate": "linear"},
"encoding": {
"x": {"field": "x", "type": "quantitative", "scale": {"domain": [0, 1681], "nice": false, "zero": false},
 "axis": {"orient": "bottom", "values": [0,200,400,600,800,1000,1200,1400,1600], "ticks": false, "grid": false, "domainColor": "black", "domainWidth": 1, "labelFont": "Liberation Sans", "labelFontSize": 18, "labelColor": "black", "labelPadding": 11, "labelBaseline": "top", "labelFlush": false, "labelOverlap": false, "format": "d", "title": "Iteration$", "titleFont": "Liberation Sans", "titleFontSize": 19, "titleFontWeight": "normal", "titleColor": "black", "titleAnchor": "end", "titleAlign": "right", "titleBaseline": "alphabetic", "titleX": 746, "titleY": 46, "zindex": 1}},
"y": {"field": "top", "type": "quantitative", "scale": {"domain": [10874, 17151], "nice": false, "zero": false},
 "axis": {"orient": "left", "values": [11000,12000,13000,14000,15000,16000,17000], "ticks": false, "grid": false, "domainColor": "black", "domainWidth": 1, "labelFont": "Liberation Sans", "labelFontSize": 18, "labelColor": "black", "labelPadding": 4, "labelFlush": false, "labelOverlap": false, "format": "d", "title": "Waveform", "titleFont": "Liberation Sans", "titleFontSize": 22, "titleFontWeight": "normal", "titleColor": "black", "titleAngle": -90, "titleAlign": "right", "titleBaseline": "alphabetic", "titleX": -46, "titleY": 0, "zindex": 1}},
"y2": {"field": "bottom"}
}
},
{
"data": {"name": "fringe"},
"mark": {"type": "area", "color": "#000099", "opacity": 0.8, "interpolate": "linear"},
"encoding": {
"x": {"field": "x", "type": "quantitative", "scale": {"domain": [0, 1681], "nice": false, "zero": false}, "axis": null},
"y": {"field": "top", "type": "quantitative", "scale": {"domain": [10874, 17151], "nice": false, "zero": false}, "axis": null},
"y2": {"field": "bottom"}
}
},
{
"data": {"name": "traces"},
"mark": {"type": "line", "color": "#000099", "strokeWidth": 2},
"encoding": {
"x": {"field": "x", "type": "quantitative", "scale": {"domain": [0, 1681], "nice": false, "zero": false},
 "axis": {"orient": "bottom", "values": [0,200,400,600,800,1000,1200,1400,1600], "labels": false, "domain": false, "grid": false, "ticks": true, "tickSize": -19, "tickColor": "black", "tickWidth": 1, "title": null, "zindex": 1}},
"y": {"field": "y", "type": "quantitative", "scale": {"domain": [10874, 17151], "nice": false, "zero": false},
 "axis": {"orient": "left", "values": [11000,12000,13000,14000,15000,16000,17000], "labels": false, "domain": false, "grid": false, "ticks": true, "tickSize": -23, "tickColor": "black", "tickWidth": 1, "title": null, "zindex": 1}},
"detail": {"field": "s", "type": "nominal"},
"order": {"field": "x", "type": "quantitative"}
}
},
{
"data": {"values": [{"label": "CsI (Tl doped)", "x": 788, "y": 11511}]},
"mark": {"type": "text", "font": "Lato", "fontSize": 44, "align": "left", "baseline": "alphabetic", "color": "black"},
"encoding": {
"x": {"field": "x", "type": "quantitative", "scale": {"domain": [0, 1681], "nice": false, "zero": false},
 "axis": {"orient": "bottom", "values": [0,50,100,150,200,250,300,350,400,450,500,550,600,650,700,750,800,850,900,950,1000,1050,1100,1150,1200,1250,1300,1350,1400,1450,1500,1550,1600,1650], "labels": false, "domain": false, "grid": false, "ticks": true, "tickSize": -10, "tickColor": "black", "tickWidth": 1, "title": null, "zindex": 1}},
"y": {"field": "y", "type": "quantitative", "scale": {"domain": [10874, 17151], "nice": false, "zero": false},
 "axis": {"orient": "left", "values": [11000,11200,11400,11600,11800,12000,12200,12400,12600,12800,13000,13200,13400,13600,13800,14000,14200,14400,14600,14800,15000,15200,15400,15600,15800,16000,16200,16400,16600,16800,17000], "labels": false, "domain": false, "grid": false, "ticks": true, "tickSize": -13, "tickColor": "black", "tickWidth": 1, "title": null, "zindex": 1}},
"text": {"field": "label"}
}
},
{
"data": {"values": [{"label": "Plot credits: P. Branchini", "x": 836, "y": 11109}]},
"mark": {"type": "text", "font": "Liberation Sans", "fontSize": 32, "fontStyle": "italic", "align": "left", "baseline": "alphabetic", "color": "black"},
"encoding": {
"x": {"field": "x", "type": "quantitative", "scale": {"domain": [0, 1681], "nice": false, "zero": false}, "axis": null},
"y": {"field": "y", "type": "quantitative", "scale": {"domain": [10874, 17151], "nice": false, "zero": false}, "axis": null},
"text": {"field": "label"}
}
}
],
"resolve": {"axis": {"x": "independent", "y": "independent"}}
}
